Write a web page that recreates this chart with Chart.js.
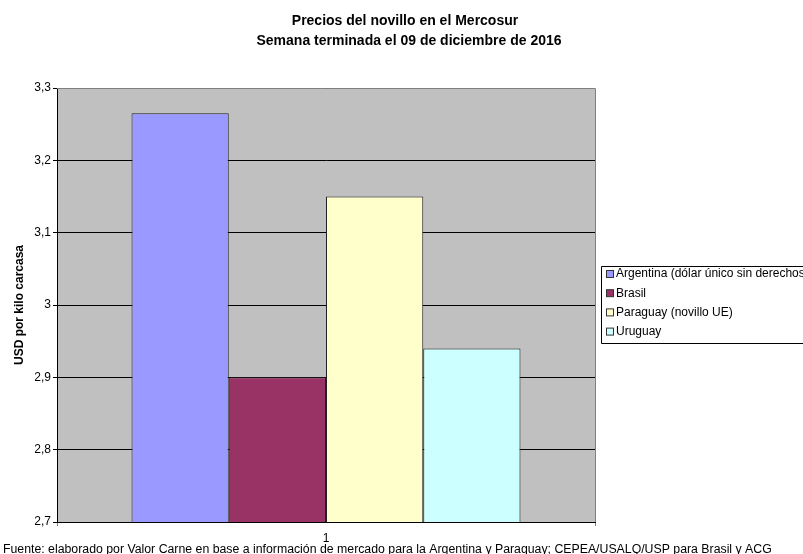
<!DOCTYPE html>
<html>
<head>
<meta charset="utf-8">
<script src="https://cdn.jsdelivr.net/npm/chart.js@4"></script>
<style>
  html, body { margin: 0; padding: 0; background: #fff; }
  #wrap { width: 803px; height: 554px; }
</style>
</head>
<body>
<div id="wrap"><canvas id="chart" width="803" height="554"></canvas></div>
<script>
// Precios del novillo - semana al 09/12/2016
const categories = ['1'];
const seriesNames = ['Argentina (dólar único sin derechos)', 'Brasil', 'Paraguay (novillo UE)', 'Uruguay'];
const argentina = [3.265];
const brasil = [2.90];
const paraguay = [3.15];
const uruguay = [2.94];
const seriesColors = ['#9999FF', '#993366', '#FFFFCC', '#CCFFFF'];
const titleLines = ['Precios del novillo en el Mercosur', 'Semana terminada el 09 de diciembre de 2016'];
const yTitle = 'USD por kilo carcasa';
const footer = 'Fuente: elaborado por Valor Carne en base a información de mercado para la Argentina y Paraguay; CEPEA/USALQ/USP para Brasil y ACG';

const FONT = '"Liberation Sans", Arial, sans-serif';
const seriesValues = [argentina, brasil, paraguay, uruguay];

// gray plot background + titles + footer + boxed legend on the right
const decor = {
    id: 'decor',
    beforeDraw(chart) {
        const { ctx, chartArea: a } = chart;
        ctx.save();
        ctx.fillStyle = '#C0C0C0';
        ctx.fillRect(a.left, a.top, a.right - a.left, a.bottom - a.top);
        ctx.restore();
    },
    afterDraw(chart) {
        const { ctx, chartArea: a } = chart;
        ctx.save();
        // plot border top/right
        ctx.strokeStyle = '#808080';
        ctx.lineWidth = 1;
        ctx.beginPath();
        ctx.moveTo(a.left, a.top + 0.5);
        ctx.lineTo(a.right + 0.5, a.top + 0.5);
        ctx.lineTo(a.right + 0.5, a.bottom);
        ctx.stroke();

        // title
        ctx.fillStyle = '#000';
        ctx.font = 'bold 14px ' + FONT;
        ctx.textAlign = 'center';
        ctx.textBaseline = 'middle';
        ctx.fillText(titleLines[0], 405, 21);
        ctx.fillText(titleLines[1], 409, 41);

        // footer
        ctx.font = '12.3px ' + FONT;
        ctx.textAlign = 'left';
        ctx.textBaseline = 'top';
        ctx.fillText(footer, 3, 543);

        // legend
        const lx = 601, ly = 266, lh = 77;
        ctx.fillStyle = '#fff';
        ctx.fillRect(lx, ly, 803 - lx, lh);
        ctx.strokeStyle = '#000';
        ctx.beginPath();
        ctx.moveTo(810, ly + 0.5);
        ctx.lineTo(lx + 0.5, ly + 0.5);
        ctx.lineTo(lx + 0.5, ly + lh + 0.5);
        ctx.lineTo(810, ly + lh + 0.5);
        ctx.stroke();
        ctx.font = '12px ' + FONT;
        ctx.textBaseline = 'middle';
        chart.data.datasets.forEach((ds, i) => {
            const cy = 274 + i * 19.2;
            ctx.fillStyle = ds.backgroundColor;
            ctx.fillRect(606.5, cy - 3.5, 7, 7);
            ctx.strokeStyle = '#333';
            ctx.strokeRect(606.5, cy - 3.5, 7, 7);
            ctx.fillStyle = '#000';
            ctx.fillText(ds.label, 616, cy);
        });
        ctx.restore();
    }
};

new Chart(document.getElementById('chart'), {
    type: 'bar',
    data: {
        labels: categories,
        datasets: seriesNames.map((name, i) => ({
            label: name,
            data: seriesValues[i],
            backgroundColor: seriesColors[i],
            borderColor: '#222',
            borderWidth: 1,
            barPercentage: 1,
            categoryPercentage: 0.723
        }))
    },
    options: {
        responsive: false,
        animation: false,
        layout: { padding: { top: 88, right: 208, bottom: 0, left: 0 } },
        plugins: {
            legend: { display: false },
            title: { display: false },
            tooltip: { enabled: false }
        },
        scales: {
            x: {
                afterFit(scale) { scale.height = 32; },
                grid: { display: true, offset: true, color: '#808080', drawOnChartArea: false, tickLength: 4 },
                border: { color: '#000' },
                ticks: { color: '#000', font: { family: FONT, size: 12 }, padding: 5 }
            },
            y: {
                min: 2.7,
                max: 3.3,
                afterFit(scale) { scale.width = 57; },
                ticks: {
                    stepSize: 0.1,
                    color: '#000',
                    padding: 2,
                    font: { family: FONT, size: 12 },
                    callback: v => (Math.round(v * 10) / 10).toString().replace('.', ',')
                },
                grid: { color: '#000', tickLength: 4 },
                border: { color: '#000' },
                title: {
                    display: true,
                    text: yTitle,
                    color: '#000',
                    font: { family: FONT, size: 12, weight: 'bold' },
                    padding: { top: 12, bottom: 0 }
                }
            }
        }
    },
    plugins: [decor]
});
</script>
</body>
</html>
